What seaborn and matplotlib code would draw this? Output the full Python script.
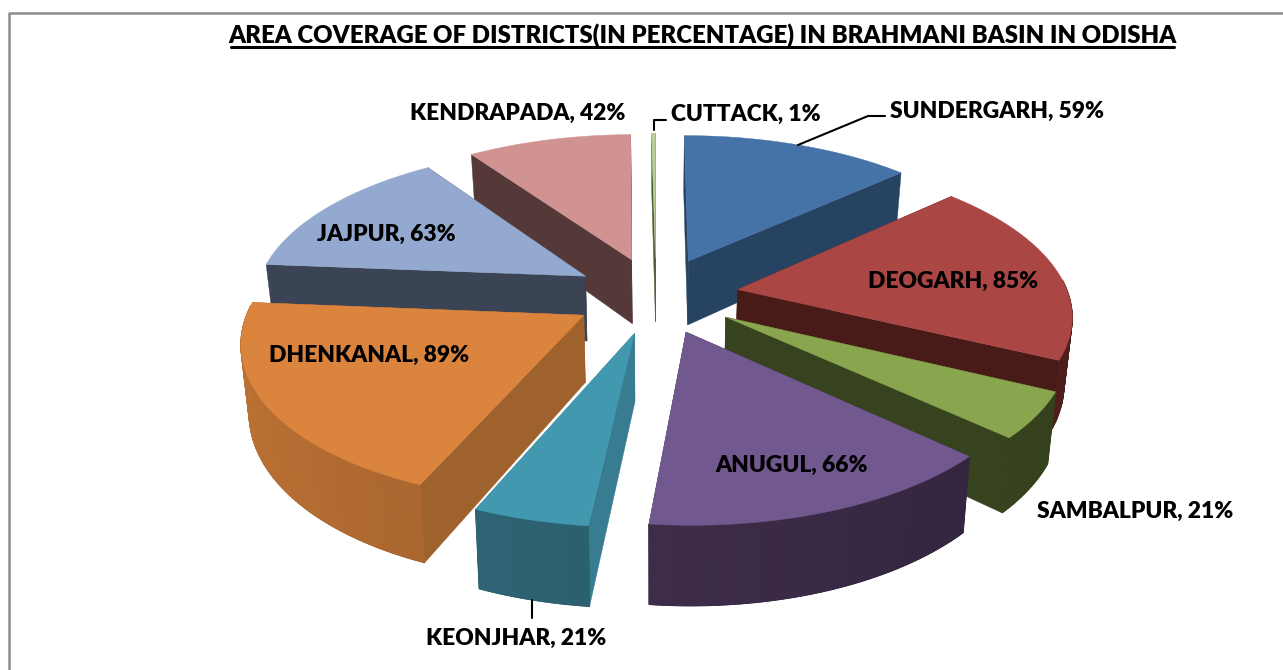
"""3D style exploded pie of district area coverage in the Brahmani basin."""
import numpy as np
import pandas as pd
import matplotlib
matplotlib.use('Agg')
import matplotlib.pyplot as plt
from matplotlib.colors import to_rgb
import seaborn as sns

# data, clockwise from 12 o'clock
districts = ['SUNDERGARH', 'DEOGARH', 'SAMBALPUR', 'ANUGUL', 'KEONJHAR',
             'DHENKANAL', 'JAJPUR', 'KENDRAPADA', 'CUTTACK']
coverage = [59, 85, 21, 66, 21, 89, 63, 42, 1]

top_colors = ['#4572A7', '#AA4643', '#89A54E', '#71588F', '#4198AF',
              '#DB843D', '#93A9CF', '#D19392', '#B9CD96']
side_colors = ['#274362', '#481B18', '#36431E', '#3A2C49', '#377C90',
               '#A0622D', '#3A4454', '#553838', '#4F5A3A']
wall_colors = ['#274362', '#5E2422', '#3F4C23', '#3C2C49', '#2B5E6C',
               '#9F602C', '#3A4454', '#553838', '#4F5A3A']

label_pos = {'SUNDERGARH': (997, 111), 'DEOGARH': (953, 281),
             'SAMBALPUR': (1135, 511), 'ANUGUL': (792, 465),
             'KEONJHAR': (516, 638), 'DHENKANAL': (369, 355),
             'JAJPUR': (386, 234), 'KENDRAPADA': (518, 113),
             'CUTTACK': (746, 114)}

# projection of the pie plane on the page
CX, CY = 656, 295
RX, RY = 331, 153
PERSP = 0.146
EXPLODE = 0.25
DEPTH = 66
SHRINK = 0.98

FONT = 'Lato'


def project(px, py, low=False):
    w = 1 + PERSP * py
    x = RX * px / w
    y = -RY * py / w
    if low:
        return CX + x * SHRINK, CY + y + DEPTH / w
    return CX + x, CY + y


def draw_slice(ax, row):
    start, end = row['start'], row['end']
    mid = (start + end) / 2
    ox, oy = EXPLODE * np.sin(mid), EXPLODE * np.cos(mid)
    theta = np.linspace(start, end, max(int(np.degrees(end - start)), 3))
    px = ox + np.sin(theta)
    py = oy + np.cos(theta)

    # radial faces
    for t in [start, end]:
        ex, ey = ox + np.sin(t), oy + np.cos(t)
        a, b = project(ox, oy), project(ex, ey)
        c, d = project(ex, ey, low=True), project(ox, oy, low=True)
        ax.fill([a[0], b[0], c[0], d[0]], [a[1], b[1], c[1], d[1]],
                color=row['side'], lw=0.3, zorder=row['order'])

    # outer wall, only the part that faces the viewer, shaded along the arc
    ux, uy = project(px, py)
    lx, ly = project(px, py, low=True)
    base = np.array(to_rgb(row['wall']))
    front = np.cos(theta) < 0.08
    if front.sum() > 1:
        ax.fill(np.r_[ux[front], lx[front][::-1]], np.r_[uy[front], ly[front][::-1]],
                color=base * 0.92, lw=0.5, zorder=row['order'])
        for i in np.flatnonzero(front[:-1] & front[1:]):
            shade = 1 - 0.18 * np.sin(theta[i])
            col = np.clip(base * shade, 0, 1)
            ax.fill([ux[i], ux[i + 1], lx[i + 1], lx[i]],
                    [uy[i], uy[i + 1], ly[i + 1], ly[i]],
                    color=col, lw=0.8, zorder=row['order'])

    # top face
    ax0, ay0 = project(ox, oy)
    ax.fill(np.r_[ax0, ux], np.r_[ay0, uy], color=row['top'], lw=0.3,
            zorder=row['order'])


sns.set_theme(style='white')
plt.rcParams['font.family'] = [FONT, 'DejaVu Sans']

df = pd.DataFrame({'district': districts, 'coverage': coverage,
                   'top': sns.color_palette(top_colors),
                   'side': side_colors, 'wall': wall_colors})
angles = np.cumsum(df['coverage']) / df['coverage'].sum() * 2 * np.pi
df['end'] = angles
df['start'] = angles.shift(fill_value=0)
df['mid'] = (df['start'] + df['end']) / 2
# back slices first
df['order'] = (-np.cos(df['mid'])).rank() + 2

fig = plt.figure(figsize=(12.83, 6.70), dpi=100)
ax = fig.add_axes([0, 0, 1, 1])
ax.set_xlim(0, 1283)
ax.set_ylim(670, 0)
ax.axis('off')

# chart frame, cut by the screenshot on the other sides
ax.plot([9, 9, 1283], [670, 13, 13], color='#8c8c8c', lw=1.8, zorder=1)

for _, row in df.sort_values('order').iterrows():
    draw_slice(ax, row)

# leader lines
ax.plot([798, 868, 885], [145, 116, 116], color='black', lw=1.5, zorder=20)
ax.plot([654, 654, 666], [130, 120, 120], color='black', lw=1.5, zorder=20)
ax.plot([532, 532], [600, 618], color='black', lw=1.5, zorder=20)

ax.text(702.5, 35, 'AREA COVERAGE OF DISTRICTS(IN PERCENTAGE) IN BRAHMANI BASIN IN ODISHA',
        ha='center', va='center', fontsize=17.3, fontweight='heavy', color='black',
        zorder=30)
ax.plot([231, 1174], [47, 47], color='black', lw=2.2, zorder=30)

for name, val in zip(districts, coverage):
    x, y = label_pos[name]
    ax.text(x, y, f'{name}, {val}%', ha='center', va='center', fontsize=16.4,
            fontweight='heavy', color='black', zorder=30)

fig.savefig('out.png', dpi=100, facecolor='white')
